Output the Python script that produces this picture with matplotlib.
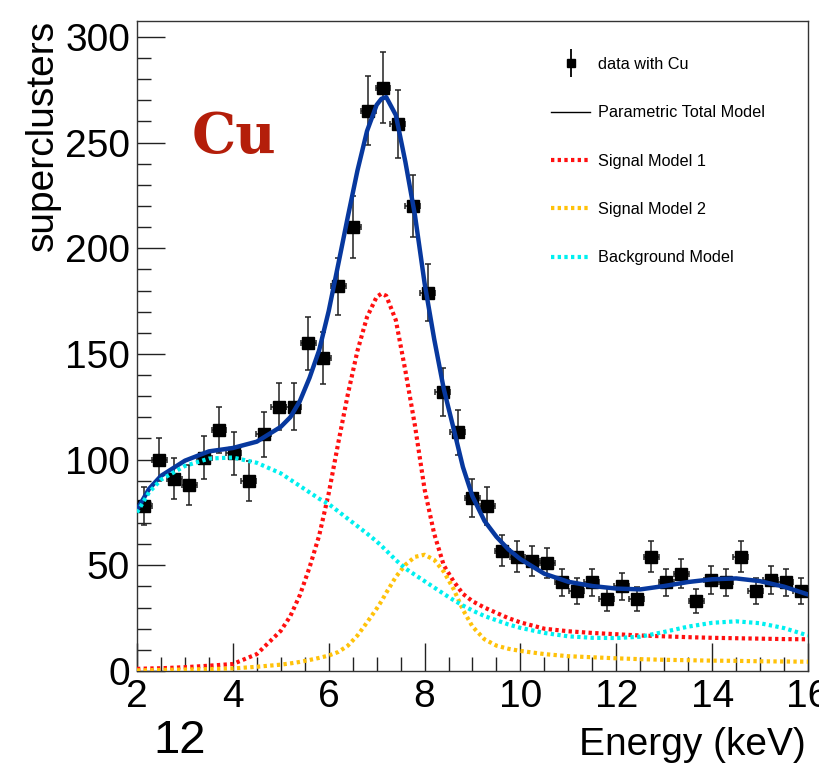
import numpy as np
import matplotlib
matplotlib.use('Agg')
import matplotlib.pyplot as plt
from matplotlib.lines import Line2D
from matplotlib.legend_handler import HandlerTuple
from matplotlib.ticker import MultipleLocator

plt.rcParams['font.family'] = ['Liberation Sans', 'DejaVu Sans']

# ---------------- data ----------------
counts = [78, 100, 91, 88, 101, 114, 103, 90, 112, 125, 125, 155, 148, 182, 210,
          265, 276, 259, 220, 179, 132, 113, 82, 78, 57, 54, 52, 51, 42, 38,
          42, 34, 40, 34, 54, 42, 46, 33, 43, 42, 54, 38, 43, 42, 38]
e_min, e_max, n_bins = 2.0, 16.0, 45

model_energy = [2.0, 2.25, 2.5, 3.0, 3.5, 4.0, 4.5, 5.0, 5.2, 5.4, 5.6, 5.8, 6.0, 6.2,
                6.4, 6.6, 6.8, 7.0, 7.1, 7.2, 7.4, 7.6, 7.8, 8.0, 8.2, 8.4, 8.6, 8.8,
                9.0, 9.25, 9.5, 9.75, 10.0, 10.5, 11.0, 11.5, 12.0, 12.5, 13.0, 13.5,
                14.0, 14.5, 15.0, 15.5, 16.0]
signal1 = [1.0, 1.2, 1.3, 1.8, 2.5, 3.3, 8.0, 19, 26, 36, 49, 64, 84, 108, 131,
           151.5, 167.5, 177, 178.5, 177.5, 166, 142, 116, 86, 65, 50, 42.6, 36.5,
           33, 30, 27.5, 25, 23, 20, 18.8, 18, 17.4, 16.8, 16.4, 16.0, 15.7, 15.5,
           15.3, 15.1, 15.0]
signal2 = [0.3, 0.4, 0.5, 0.7, 0.9, 1.2, 2.0, 3.0, 3.6, 4.3, 5.2, 6.2, 7.3, 9.0, 12.0,
           16.8, 23.0, 29.5, 33.0, 37.0, 44.5, 50.3, 54.0, 55.0, 52.6, 47.0, 39.0,
           29.0, 21.0, 15.0, 12.0, 10.5, 9.5, 8.0, 7.0, 6.5, 6.0, 5.6, 5.3, 5.1, 4.9,
           4.8, 4.6, 4.5, 4.4]
background = [75, 84.5, 90.5, 97, 100.5, 101, 98.5, 93.5, 90.5, 87.5, 84.5, 81.5, 79,
              75.5, 72, 68.5, 65, 61.3, 59.2, 57, 52.5, 48.5, 45.5, 42.5, 39.5, 36.5,
              33.6, 31, 28.6, 26, 24, 22, 20.4, 18, 16.4, 15.7, 15.6, 16.2, 18.5, 21,
              22.8, 23.5, 22.6, 20.3, 16.8]

legend_labels = ['data with Cu', 'Parametric Total Model', 'Signal Model 1',
                 'Signal Model 2', 'Background Model']
x_ticks = [2, 4, 6, 8, 10, 12, 14, 16]
y_ticks = [0, 50, 100, 150, 200, 250, 300]

# ---------------- figure ----------------
W, H = 820, 767
fig = plt.figure(figsize=(W / 100, H / 100), dpi=100)
fig.patch.set_facecolor('white')
ax = fig.add_axes([137 / W, 1 - 671 / H, 671 / W, 650 / H])

edges = np.linspace(e_min, e_max, n_bins + 1)
centers = 0.5 * (edges[1:] + edges[:-1])
half_w = 0.5 * (edges[1] - edges[0])
cnt = np.array(counts, dtype=float)

ax.errorbar(centers, cnt, yerr=np.sqrt(cnt), xerr=half_w, fmt='s', color='black',
            ms=9, ecolor='#222222', elinewidth=1.1, capsize=2.5, capthick=1.1,
            zorder=3)

E = np.array(model_energy)
s1 = np.array(signal1)
s2 = np.array(signal2)
bg = np.array(background)
total = s1 + s2 + bg

ax.plot(E, total, color='#07389e', lw=3.2, zorder=4, solid_capstyle='round',
        solid_joinstyle='round')
dot = (0, (0.8, 0.8))
for arr, col in [(s1, '#ff1010'), (s2, '#ffc20a'), (bg, '#00f0f0')]:
    ax.plot(E, arr, color=col, lw=3.0, linestyle=dot, dash_capstyle='butt', zorder=5)

ax.set_xlim(e_min, e_max)
ax.set_ylim(0, 307.5)
ax.set_xticks(x_ticks)
ax.set_yticks(y_ticks)
ax.xaxis.set_minor_locator(MultipleLocator(0.5))
ax.yaxis.set_minor_locator(MultipleLocator(10))
ax.tick_params(which='both', direction='in', top=False, right=False, width=1,
               color='#222222')
ax.tick_params(which='major', length=20)
ax.tick_params(which='minor', length=10)
ax.tick_params(axis='x', which='major', labelsize=28, pad=6)
ax.tick_params(axis='y', which='major', labelsize=28, pad=5)
for sp in ax.spines.values():
    sp.set_linewidth(1.0)
    sp.set_color('#333333')

# axis titles
fig.text(43 / W, 1 - 20 / H, 'superclusters', rotation=90, ha='center', va='top',
         fontsize=28)
fig.text(806 / W, 1 - 755 / H, 'Energy (keV)', ha='right', va='baseline', fontsize=28)
fig.text(180 / W, 1 - 753 / H, '12', ha='center', va='baseline', fontsize=34)

# Cu label
fig.text(192 / W, 1 - 153 / H, 'Cu', ha='left', va='baseline', fontsize=40,
         fontweight='bold', family=['DejaVu Serif'], color='#b41e0a')

# legend
h_data = (Line2D([], [], color='black', marker='|', ms=19.5, mew=1.3, lw=0),
          Line2D([], [], color='black', marker='s', ms=5.5, lw=0))
h_tot = Line2D([], [], color='black', lw=1.0)
h_s1 = Line2D([], [], color='#ff1010', lw=3.0, linestyle=dot, dash_capstyle='butt')
h_s2 = Line2D([], [], color='#ffc20a', lw=3.0, linestyle=dot, dash_capstyle='butt')
h_bg = Line2D([], [], color='#00f0f0', lw=3.0, linestyle=dot, dash_capstyle='butt')
leg = ax.legend([h_data, h_tot, h_s1, h_s2, h_bg], legend_labels,
                handler_map={tuple: HandlerTuple(ndivide=1)},
                loc='upper left', bbox_to_anchor=((551 - 137) / 671, (671 - 57) / 650),
                frameon=False, fontsize=11.7, labelspacing=2.05, handlelength=2.4,
                handletextpad=0.5, borderpad=0, borderaxespad=0)

fig.savefig('out.png', dpi=100, facecolor='white')
